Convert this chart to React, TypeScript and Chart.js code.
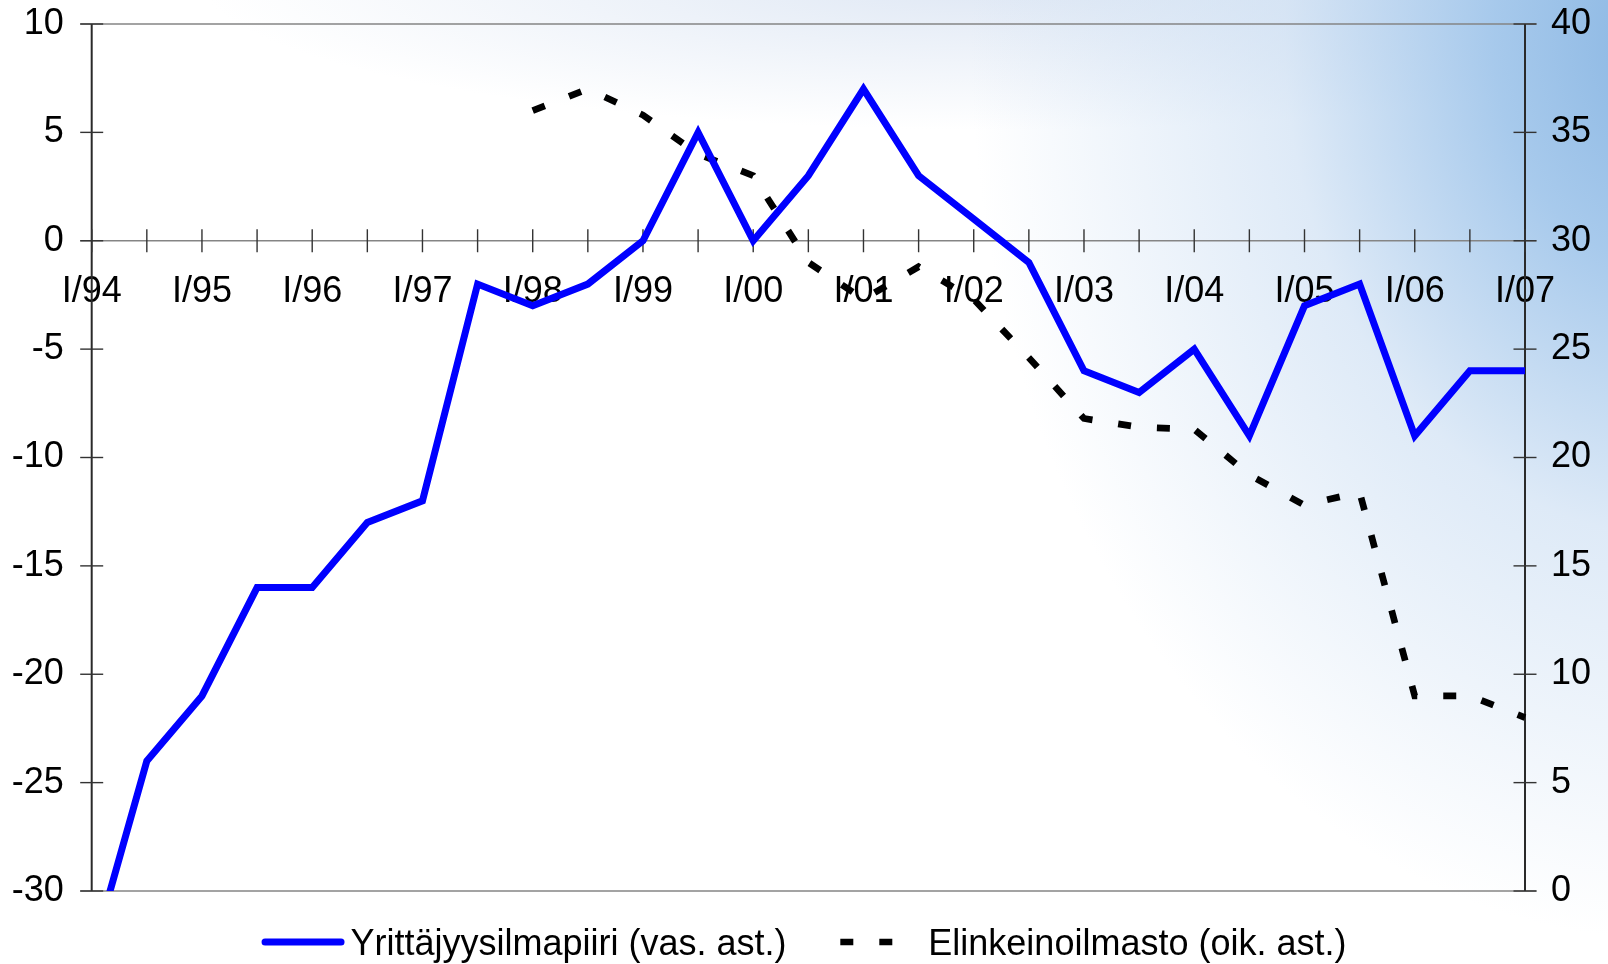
import React, { useEffect, useRef } from 'react';
import { Chart, registerables } from 'chart.js';

Chart.register(...registerables);

// ---- Data ----
const categories = [
  'I/94', 'II/94', 'I/95', 'II/95', 'I/96', 'II/96', 'I/97', 'II/97', 'I/98', 'II/98',
  'I/99', 'II/99', 'I/00', 'II/00', 'I/01', 'II/01', 'I/02', 'II/02', 'I/03', 'II/03',
  'I/04', 'II/04', 'I/05', 'II/05', 'I/06', 'II/06', 'I/07',
];
const yrittajyysilmapiiri = [
  -33, -24, -21, -16, -16, -13, -12, -2, -3, -2,
  0, 5, 0, 3, 7, 3, 1, -1, -6, -7,
  -5, -9, -3, -2, -9, -6, -6,
];
const elinkeinoilmasto = [
  null, null, null, null, null, null, null, null, 36, 37,
  35.8, 34, 33, 29, 27.3, 28.8, 27.3, 24.6, 21.8, 21.4,
  21.3, 19.2, 17.8, 18.4, 9, 9, 8,
];
const seriesLabels = ['Yrittäjyysilmapiiri (vas. ast.)', 'Elinkeinoilmasto (oik. ast.)'];
const leftAxis = { min: -30, max: 10, step: 5 };
const rightAxis = { min: 0, max: 40, step: 5 };

const FONT_FAMILY = '"Liberation Sans", Arial, sans-serif';
const FONT_SIZE = 36;
const LEGEND_FONT_SIZE = 36;

const axesPlugin = {
  id: 'customAxes',
  beforeDatasetsDraw(chart: any) {
    const { ctx, chartArea, scales } = chart;
    const { left, right, top, bottom } = chartArea;
    const x = scales.x;
    const y = scales.y;
    const y1 = scales.y1;
    const t = 11.5;
    const zeroY = y.getPixelForValue(0);
    const line = (x1: number, y1_: number, x2: number, y2: number) => {
      ctx.beginPath();
      ctx.moveTo(x1, y1_);
      ctx.lineTo(x2, y2);
      ctx.stroke();
    };
    ctx.save();
    ctx.lineCap = 'butt';
    ctx.strokeStyle = '#858585';
    ctx.lineWidth = 1.6;
    [top, bottom, zeroY].forEach((py) => line(left - t, py, right + t, py));
    ctx.strokeStyle = '#2a2a2a';
    ctx.lineWidth = 2;
    line(left, top, left, bottom);
    line(right, top, right, bottom);
    ctx.strokeStyle = '#333333';
    ctx.lineWidth = 1.4;
    y.ticks.forEach((tk: any) => {
      const py = y.getPixelForValue(tk.value);
      line(left - t, py, left + t, py);
    });
    y1.ticks.forEach((tk: any) => {
      const py = y1.getPixelForValue(tk.value);
      line(right - t, py, right + t, py);
    });
    x.ticks.forEach((_tk: any, i: number) => {
      const px = x.getPixelForTick(i);
      line(px, zeroY - t, px, zeroY + t);
    });
    ctx.restore();
  },
};

const legendPlugin = {
  id: 'customLegend',
  afterDraw(chart: any) {
    const { ctx, width } = chart;
    const ds = chart.data.datasets;
    ctx.save();
    ctx.font = `${LEGEND_FONT_SIZE}px ${FONT_FAMILY}`;
    ctx.textBaseline = 'alphabetic';
    ctx.fillStyle = '#000';
    const cy = 942;
    const baseline = cy + LEGEND_FONT_SIZE * 0.716 / 2;
    const w1 = ctx.measureText(ds[0].label).width;
    const w2 = ctx.measureText(ds[1].label).width;
    const line1 = 83;
    const gap1 = 6;
    const itemGap = 53.7;
    const line2 = 78;
    const gap2 = 10;
    const total = line1 + gap1 + w1 + itemGap + line2 + gap2 + w2;
    const x0 = (width - total) / 2;
    // item 1
    ctx.strokeStyle = ds[0].borderColor;
    ctx.lineWidth = 7;
    ctx.lineCap = 'round';
    ctx.beginPath();
    ctx.moveTo(x0 + 3.5, cy);
    ctx.lineTo(x0 + line1 - 3.5, cy);
    ctx.stroke();
    ctx.fillText(ds[0].label, x0 + line1 + gap1, baseline);
    // item 2
    const x2 = x0 + line1 + gap1 + w1 + itemGap;
    ctx.strokeStyle = ds[1].borderColor;
    ctx.lineWidth = 6.7;
    ctx.lineCap = 'butt';
    ctx.setLineDash(ds[1].borderDash);
    ctx.beginPath();
    ctx.moveTo(x2, cy);
    ctx.lineTo(x2 + line2, cy);
    ctx.stroke();
    ctx.setLineDash([]);
    ctx.fillText(ds[1].label, x2 + line2 + gap2, baseline);
    ctx.restore();
  },
};

const fixVertical = (width: number) => (s: any) => {
  s.width = width;
  s.paddingTop = 0;
  s.paddingBottom = 0;
};

export default function App() {
  const canvasRef = useRef<HTMLCanvasElement | null>(null);

  useEffect(() => {
    const canvas = canvasRef.current;
    if (!canvas) return;
    const font = { family: FONT_FAMILY, size: FONT_SIZE };
    const chart = new Chart(canvas, {
      type: 'line',
      data: {
        labels: categories,
        datasets: [
          {
            label: seriesLabels[0],
            data: yrittajyysilmapiiri,
            borderColor: '#0000ff',
            backgroundColor: '#0000ff',
            borderWidth: 7,
            pointRadius: 0,
            pointHoverRadius: 0,
            tension: 0,
            yAxisID: 'y',
            borderCapStyle: 'butt',
            borderJoinStyle: 'miter',
          },
          {
            label: seriesLabels[1],
            data: elinkeinoilmasto,
            borderColor: '#000000',
            backgroundColor: '#000000',
            borderWidth: 6.7,
            borderDash: [13, 26],
            borderCapStyle: 'butt',
            pointRadius: 0,
            pointHoverRadius: 0,
            tension: 0,
            yAxisID: 'y1',
            spanGaps: false,
          },
        ],
      },
      options: {
        responsive: false,
        animation: false,
        events: [],
        layout: { padding: { top: 24, bottom: 73, left: 0, right: 0 } },
        plugins: {
          legend: { display: false },
          tooltip: { enabled: false },
        },
        scales: {
          x: {
            type: 'category',
            position: { y: 0 } as any,
            offset: false,
            grid: { display: false, drawTicks: false },
            border: { display: false },
            ticks: {
              autoSkip: false,
              maxRotation: 0,
              minRotation: 0,
              padding: 30,
              color: '#000',
              font,
              callback: (_v: any, i: number) => (categories[i].startsWith('I/') ? categories[i] : ''),
            },
          },
          y: {
            type: 'linear',
            position: 'left',
            min: leftAxis.min,
            max: leftAxis.max,
            grid: { display: false, drawTicks: false },
            border: { display: false },
            ticks: { stepSize: leftAxis.step, padding: 28, color: '#000', font },
            afterFit: fixVertical(91.7),
          },
          y1: {
            type: 'linear',
            position: 'right',
            min: rightAxis.min,
            max: rightAxis.max,
            grid: { display: false, drawTicks: false },
            border: { display: false },
            ticks: { stepSize: rightAxis.step, padding: 26, color: '#000', font },
            afterFit: fixVertical(83),
          },
        },
      },
      plugins: [axesPlugin, legendPlugin],
    } as any);
    return () => chart.destroy();
  }, []);

  return (
    <div
      style={{
        position: 'fixed',
        left: 0,
        top: 0,
        width: 1608,
        height: 964,
        background:
          'radial-gradient(ellipse 700px 900px at 1670px 40px, rgba(136,181,226,1) 0%, rgba(158,196,234,0.9) 25%, rgba(200,220,242,0.6) 55%, rgba(255,255,255,0) 100%), radial-gradient(ellipse 800px 150px at 1000px -20px, rgba(222,231,244,1) 0%, rgba(255,255,255,0) 100%), #ffffff',
      }}
    >
      <canvas ref={canvasRef} width={1608} height={964} style={{ display: 'block' }} />
    </div>
  );
}
